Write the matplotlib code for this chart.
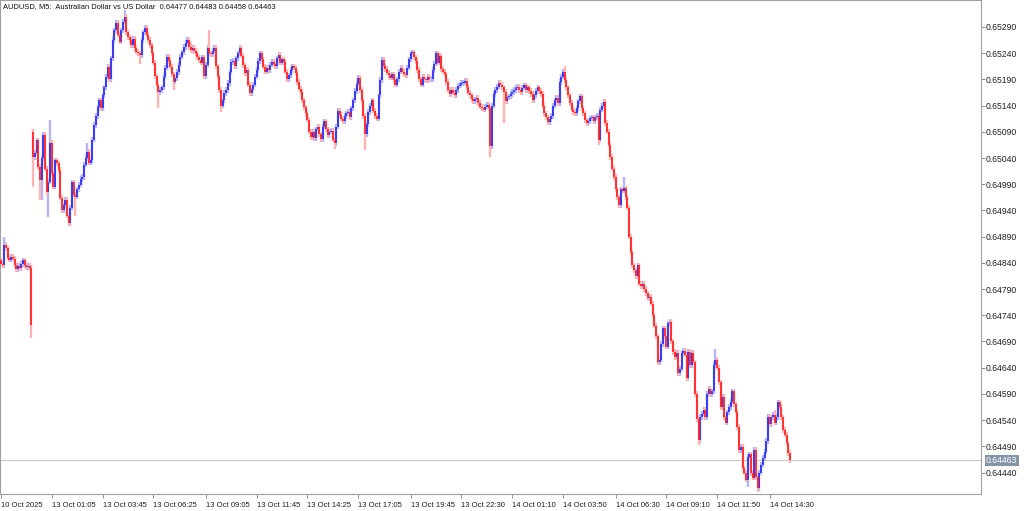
import matplotlib
matplotlib.use("Agg")
import matplotlib.pyplot as plt
import matplotlib.transforms as mtransforms
import numpy as np

# ---- data (prices in points of 0.00001 above 0.64000) ----
closes_10oct = [838, 835, 875, 868, 850, 846, 852, 848, 836, 828, 834, 830, 838, 845, 836, 832, 834, 831, 722]
closes_13oct_a = [1042, 1050, 1074, 1023, 998, 1040, 1084, 1020, 975, 995, 1069, 1011, 985, 1036, 1030, 1017, 964, 941,
                  950, 960, 930, 916, 945, 994, 970, 966, 980, 989, 1000, 1004, 1027, 1040, 1052, 1031, 1036, 1075, 1103,
                  1120, 1137, 1150, 1135, 1160, 1175, 1195, 1214, 1190, 1230, 1265, 1284, 1298, 1275, 1262, 1284, 1300,
                  1309, 1280, 1270, 1265, 1255, 1268, 1250, 1243, 1240, 1236, 1265, 1280, 1288, 1275, 1266, 1255, 1240,
                  1222, 1196, 1180, 1166, 1170, 1175, 1195, 1212, 1233, 1225, 1214, 1200, 1186, 1192, 1204, 1218, 1233,
                  1242, 1252, 1260, 1265, 1252, 1246, 1250, 1244, 1240, 1232, 1227, 1222, 1232, 1196, 1218, 1250, 1240,
                  1238, 1245, 1250, 1215, 1196, 1170, 1140, 1150, 1164, 1170, 1183, 1205, 1223, 1225, 1215, 1230, 1240,
                  1250, 1235, 1217, 1202, 1208, 1180, 1164, 1172, 1180, 1195, 1208, 1225, 1240, 1228, 1214, 1205, 1212,
                  1208, 1218, 1224, 1220, 1215, 1230, 1237, 1222, 1228, 1223, 1205, 1190, 1198, 1208, 1215, 1212, 1203,
                  1185, 1172, 1166, 1150, 1137, 1125, 1113, 1090, 1080, 1090, 1078, 1095, 1100, 1085, 1076, 1100, 1110,
                  1095, 1083, 1090, 1092, 1075, 1068, 1100, 1130, 1122, 1115, 1110, 1120, 1125, 1128, 1118, 1135, 1150,
                  1168, 1182, 1193, 1170, 1150, 1120, 1085, 1105, 1128, 1140, 1150, 1130, 1120, 1115, 1160, 1189, 1227,
                  1215, 1210, 1203, 1198, 1193, 1200, 1188, 1180, 1190, 1205, 1212, 1205, 1200, 1198, 1212, 1228, 1240,
                  1242, 1232, 1225, 1208, 1190, 1180, 1195, 1190, 1188, 1195, 1190, 1191, 1208, 1220, 1240, 1222, 1235,
                  1210, 1205, 1200, 1185, 1170, 1162, 1170, 1165, 1160, 1170, 1178, 1180, 1183, 1184, 1187, 1175, 1165,
                  1160, 1152, 1148, 1152, 1155, 1145, 1138, 1135, 1132, 1138, 1142, 1135]
closes_14oct = [1062, 1140, 1162, 1170, 1176, 1183, 1180, 1175, 1166, 1148, 1156, 1158, 1162, 1166, 1170, 1174, 1176,
                1170, 1166, 1174, 1179, 1170, 1175, 1168, 1162, 1150, 1160, 1168, 1175, 1168, 1162, 1140, 1125, 1118,
                1108, 1114, 1120, 1140, 1150, 1155, 1145, 1185, 1195, 1205, 1188, 1175, 1160, 1145, 1132, 1128, 1125,
                1135, 1148, 1158, 1135, 1125, 1112, 1106, 1110, 1116, 1118, 1110, 1118, 1120, 1075, 1132, 1140, 1147,
                1107, 1090, 1065, 1042, 1020, 1004, 980, 965, 950, 980, 978, 982, 965, 945, 890, 860, 835, 826, 815,
                835, 800, 795, 800, 790, 782, 772, 775, 762, 740, 720, 700, 650, 655, 685, 715, 700, 680, 725, 728,
                690, 670, 660, 668, 630, 638, 668, 672, 665, 620, 670, 645, 668, 650, 590, 542, 502, 546, 552, 560,
                545, 590, 600, 590, 595, 645, 655, 640, 612, 565, 585, 546, 535, 555, 565, 575, 595, 570, 556, 527,
                483, 489, 449, 440, 426, 470, 475, 439, 430, 483, 431, 410, 440, 455, 468, 480, 500, 546, 532, 545,
                550, 535, 546, 574, 565, 545, 521, 512, 496, 477, 463]
closes = closes_10oct + closes_13oct_a + closes_14oct

first_open = 845
gap_opens = {19: 1090}
high_marks = {2: 889, 19: 1095, 25: 1090, 29: 1113, 51: 1069, 73: 1322, 112: 1262, 123: 1284,
              333: 1215, 368: 1004, 422: 675, 457: 560, 466: 483}
low_marks = {18: 697, 19: 985, 23: 960, 24: 960, 28: 927, 40: 910, 44: 930, 82: 1220, 93: 1135,
             102: 1170, 130: 1127, 197: 1058, 215: 1055, 289: 1042, 297: 1107, 353: 1065,
             412: 492, 441: 412, 447: 403, 466: 458}

price_ticks = [0.65290, 0.65240, 0.65190, 0.65140, 0.65090, 0.65040, 0.64990, 0.64940, 0.64890,
               0.64840, 0.64790, 0.64740, 0.64690, 0.64640, 0.64590, 0.64540, 0.64490, 0.64440]
time_tick_bars = [0, 30, 60, 90, 121, 151, 181, 211, 242, 272, 302, 332, 363, 393, 423, 454]
time_tick_labels = ["10 Oct 2025", "13 Oct 01:05", "13 Oct 03:45", "13 Oct 06:25", "13 Oct 09:05",
                    "13 Oct 11:45", "13 Oct 14:25", "13 Oct 17:05", "13 Oct 19:45", "13 Oct 22:30",
                    "14 Oct 01:10", "14 Oct 03:50", "14 Oct 06:30", "14 Oct 09:10", "14 Oct 11:50",
                    "14 Oct 14:30"]
last_price = 0.64463
title = "AUDUSD, M5:  Australian Dollar vs US Dollar  0.64477 0.64483 0.64458 0.64463"

# ---- build OHLC ----
c = np.array(closes, dtype=float)
o = np.empty_like(c)
o[0] = first_open
o[1:] = c[:-1]
for k, v in gap_opens.items():
    o[k] = v
wick = 5.0
h = np.maximum(o, c) + wick
l = np.minimum(o, c) - wick
for k, v in high_marks.items():
    h[k] = v
for k, v in low_marks.items():
    l[k] = v
to_price = lambda a: 0.64 + np.asarray(a) / 100000.0
o, h, l, c = to_price(o), to_price(h), to_price(l), to_price(c)
n = len(c)
x = np.arange(n)

# ---- figure ----
W, H = 1024, 511
fig = plt.figure(figsize=(W / 100, H / 100), dpi=100)
plot_right, plot_bottom = 981, 494
ax = fig.add_axes([0, (H - plot_bottom) / H, plot_right / W, plot_bottom / H])

px_per_bar = 1.693
ax.set_xlim(-1 / px_per_bar, (plot_right - 1) / px_per_bar)
ax.set_ylim(0.64399, 0.653415)

up = c >= o
blue, red = "#2a2af0", "#ff2020"
blue_w, red_w = "#b4b4f6", "#ffb4b4"
ax.vlines(x[up], l[up], h[up], color=blue_w, lw=1.7, zorder=2)
ax.vlines(x[~up], l[~up], h[~up], color=red_w, lw=1.7, zorder=2)
bt = np.maximum(o, c)
bb = np.minimum(o, c)
bt = np.where(bt - bb < 0.000015, bb + 0.000015, bt)
ax.vlines(x[up], bb[up], bt[up], color=blue, lw=1.25, zorder=3)
ax.vlines(x[~up], bb[~up], bt[~up], color=red, lw=1.25, zorder=3)

ax.axhline(last_price, color="#c8c8c8", lw=0.8, zorder=1)

for s in ax.spines.values():
    s.set_color("#a0a0a0")
    s.set_linewidth(0.8)

ax.yaxis.tick_right()
ax.set_yticks(price_ticks)
ax.set_yticklabels([f"{p:.5f}" for p in price_ticks])
ax.tick_params(axis="y", direction="out", length=3, width=0.6, color="#808080",
               labelsize=6.2, pad=0.5, labelcolor="#202020")
ax.set_xticks(time_tick_bars)
ax.set_xticklabels(time_tick_labels)
ax.tick_params(axis="x", direction="out", length=3, width=0.6, color="#808080",
               labelsize=5.5, pad=2.5, labelcolor="#202020")
for lbl in ax.get_xticklabels():
    lbl.set_horizontalalignment("left")
for lbl in ax.get_yticklabels() + ax.get_xticklabels():
    lbl.set_fontfamily("Liberation Sans")

trans = mtransforms.blended_transform_factory(ax.transAxes, ax.transData)
ax.text(1.0 + 5 / plot_right, last_price, "0.64463", transform=trans, ha="left", va="center",
        fontsize=6.2, color="white", family="Liberation Sans", zorder=5,
        bbox=dict(boxstyle="square,pad=0.15", facecolor="#8595a8", edgecolor="none"))

fig.text(3 / W, 1 - 7 / H, title, ha="left", va="center", fontsize=5.4,
         family="Liberation Sans", color="#101010")

fig.savefig("out.png", dpi=100, facecolor="white")
